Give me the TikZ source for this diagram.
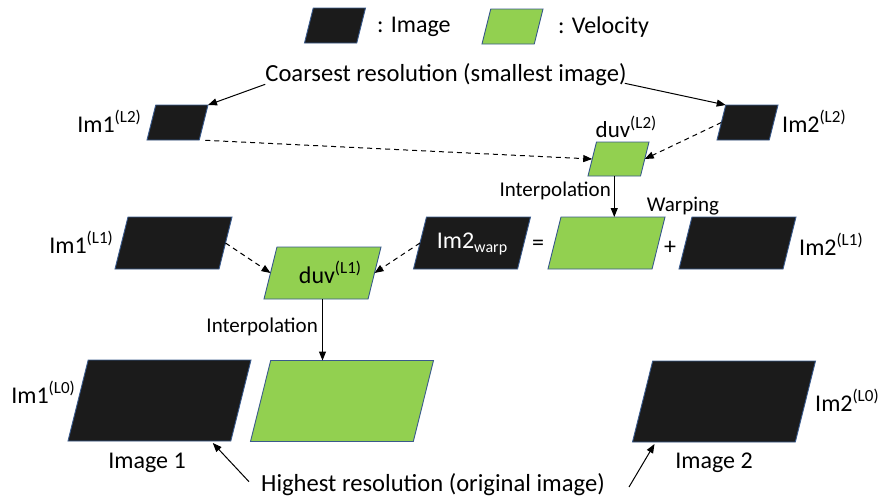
\documentclass[tikz,border=0pt]{standalone}
\usepackage{fontspec}
\setmainfont{Carlito}
\usetikzlibrary{shapes.geometric,arrows.meta,calc}
\definecolor{imgfill}{HTML}{1B1B1B}
\definecolor{velfill}{HTML}{92D050}
\definecolor{edgeblue}{HTML}{3A5A8C}
\newcommand{\sps}[1]{\raisebox{0.42em}{\fontsize{17}{17}\selectfont #1}}
\newcommand{\sbs}[1]{\raisebox{-0.2em}{\fontsize{16}{16}\selectfont #1}}
\tikzset{
 par/.style={trapezium, trapezium left angle=76, trapezium right angle=104, trapezium stretches body, draw=edgeblue, line width=0.9pt, inner xsep=0pt, outer sep=0pt},
 img/.style={par, fill=imgfill},
 vel/.style={par, fill=velfill},
 szS/.style={minimum width=61pt, inner ysep=17.5pt},
 szM/.style={minimum width=117pt, inner ysep=26pt},
 szL/.style={minimum width=183pt, inner ysep=40.5pt},
 lbl/.style={inner sep=0pt, font=\fontsize{24}{28}\selectfont},
 blbl/.style={inner sep=0pt, font=\fontsize{24.6}{28}\selectfont},
 slbl/.style={inner sep=0pt, font=\fontsize{21}{24}\selectfont},
 arr/.style={-{Triangle[length=9pt,width=7pt]}, line width=1pt},
 darr/.style={arr, dash pattern=on 5pt off 4pt},
}
\begin{document}
\begin{tikzpicture}[x=1pt,y=-1pt]
\useasboundingbox (0,0) rectangle (878,501);
% legend
\node[img,szS] (legI) at (335,25.5) {};
\node[lbl,anchor=west] (legIt) at (377,27) {: Image};
\node[vel,szS] (legV) at (512.5,26.5) {};
\node[lbl,anchor=west] (legVt) at (558,27) {: Velocity};
% coarsest
\node[blbl] (coarse) at (446,75) {Coarsest resolution (smallest image)};
\node[img,szS] (im1L2) at (177.5,122.5) {};
\node[img,szS] (im2L2) at (747.5,122.5) {};
\node[vel,szS,inner ysep=17pt] (duvL2) at (618.5,159) {};
\node[lbl,anchor=east] (im1L2t) at (141,121) {Im1\sps{(L2)}};
\node[lbl,anchor=west] (im2L2t) at (782,121) {Im2\sps{(L2)}};
\node[lbl,font=\fontsize{23}{26}\selectfont] (duvL2t) at (626,127) {duv\sps{(L2)}};
% level 1
\node[img,szM] (im1L1) at (173.5,243) {};
\node[vel,szM] (duvL1) at (322.5,273) {};
\node[lbl] (duvL1t) at (330,272) {duv\sps{(L1)}};
\node[img,szM] (im2w) at (472,243) {};
\node[lbl,text=white] (im2wt) at (472,244) {Im2\sbs{warp}};
\node[lbl] (eq) at (538,245) {=};
\node[vel,szM] (velW) at (606.5,243) {};
\node[lbl] (plus) at (670,248) {+};
\node[img,szM] (im2L1) at (737.5,243) {};
\node[lbl,anchor=east] (im1L1t) at (113,242) {Im1\sps{(L1)}};
\node[lbl,anchor=west] (im2L1t) at (799,244) {Im2\sps{(L1)}};
\node[slbl,anchor=east] (interp2) at (611,191) {Interpolation};
\node[slbl] (warp) at (683,206) {Warping};
\node[slbl,anchor=east] (interp1) at (318,327) {Interpolation};
% level 0
\node[img,szL] (im1L0) at (159.5,400.5) {};
\node[vel,szL] (velL0) at (342,401) {};
\node[img,szL] (im2L0) at (724,401.5) {};
\node[lbl,anchor=east] (im1L0t) at (75,392) {Im1\sps{(L0)}};
\node[lbl,anchor=west] (im2L0t) at (815,400) {Im2\sps{(L0)}};
\node[lbl] (img1t) at (147,463) {Image 1};
\node[lbl] (img2t) at (714,463) {Image 2};
\node[blbl] (highest) at (433,485) {Highest resolution (original image)};
% connectors
\draw[arr] (coarse.south west) ++(0,-2) coordinate (cL) (cL) -- (im1L2.top right corner);
\draw[arr] (coarse.south east) ++(-2,-3) coordinate (cR) (cR) -- (im2L2.top left corner);
\draw[darr, shorten <=6pt] (im1L2.bottom right corner) -- (duvL2.west);
\draw[darr] (im2L2.west) -- (duvL2.east);
\draw[arr] (duvL2.bottom side) -- (duvL2.bottom side |- velW.top side);
\draw[darr] (im1L1.east) -- (duvL1.west);
\draw[darr] (im2w.west) -- (duvL1.east);
\draw[arr] (duvL1.south) -- (duvL1.south |- velL0.top side);
\draw[arr] (highest.north west) ++(-12,8) coordinate (hL) (hL) -- ($(im1L0.bottom right corner)+(-18,2)$);
\draw[arr] (highest.east) ++(24,2) coordinate (hR) (hR) -- ($(im2L0.bottom left corner)+(22,2)$);
\end{tikzpicture}
\end{document}
